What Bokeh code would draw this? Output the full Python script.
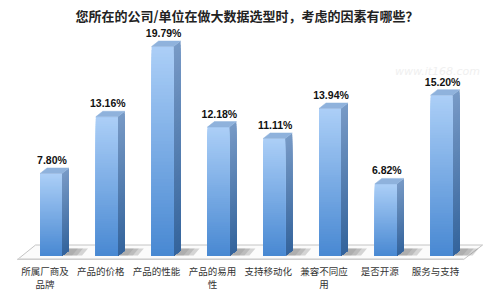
from bokeh.plotting import figure
from bokeh.models import ColumnDataSource, Range1d
from bokeh.core.properties import value
from bokeh.embed import file_html
from bokeh.resources import INLINE

# ---- data ----
categories = ["所属厂商及\n品牌", "产品的价格", "产品的性能", "产品的易用\n性",
              "支持移动化", "兼容不同应\n用", "是否开源", "服务与支持"]
values = [7.80, 13.16, 19.79, 12.18, 11.11, 13.94, 6.82, 15.20]
labels = ["7.80%", "13.16%", "19.79%", "12.18%", "11.11%", "13.94%", "6.82%", "15.20%"]
title_text = "您所在的公司/单位在做大数据选型时，考虑的因素有哪些？"

# ---- layout constants (pixel geometry) ----
W, H = 500, 290
X0, STEP = 50.5, 55.8          # px of first bar centre, px per category
Y0, SCALE = 255.6, 10.59       # px (from top) of 0 %, px per %

def dx(px):  # horizontal pixel length -> data units
    return px / STEP

def dy(px):  # vertical pixel length -> % units
    return px / SCALE

xr = Range1d(-X0 / STEP, (W - X0) / STEP)
yr = Range1d(-(H - Y0) / SCALE, Y0 / SCALE)

p = figure(width=W, height=H, x_range=xr, y_range=yr, output_backend="svg",
           toolbar_location=None, min_border=0, x_axis_location=None,
           y_axis_location=None, background_fill_color="white",
           border_fill_color="white")
p.outline_line_color = None
p.grid.visible = False

n = len(values)
hw = dx(11)      # half width of front face
dep_x = dx(7)    # depth offset x
dep_y = dy(5.5)  # depth offset y

def lerp(c1, c2, t):
    return "#%02x%02x%02x" % tuple(int(round(a + (b - a) * t)) for a, b in zip(c1, c2))

# ---- floor ----
fy_lo, fy_hi = dy(Y0 - 259), dy(Y0 - 244.5)
floor_x = [-0.6, -0.6 + dx(18), (n - 1) + dx(41), (n - 1) + dx(22)]
floor_y = [fy_lo, fy_hi, fy_hi, fy_lo]
p.patch(floor_x, floor_y, fill_color="#fbfbfb", line_color="#c4c4c4", line_width=1)
p.patch([-0.6, (n - 1) + dx(22), (n - 1) + dx(22), -0.6],
        [fy_lo, fy_lo, fy_lo + dy(1.2), fy_lo + dy(1.2)],
        fill_color="#d8d8d8", line_color=None)

# ---- shadows behind bars ----
for i in range(n):
    xs = [i + hw, i + hw + dx(20), i + hw + dx(26), i + hw + dep_x]
    ys = [dy(Y0 - 255), dy(Y0 - 255), dy(Y0 - 248), dy(Y0 - 248)]
    for k, a in enumerate([0.25, 0.2, 0.15]):
        shrink = dx(5 * k)
        p.patch([xs[0], xs[1] - shrink, xs[2] - shrink, xs[3]], ys,
                fill_color="#606060", fill_alpha=a, line_color=None)

# ---- bars (gradient by nested strips, tallest first) ----
N = 60
front_top = (0xac, 0xcf, 0xf7)
front_bot = (0x48, 0x88, 0xd2)
side_top = (0x78, 0x9a, 0xc6)
side_bot = (0x34, 0x64, 0x9c)

fl, fr, fb, ft, fc = [], [], [], [], []
sx, sy, sc = [], [], []
for k in reversed(range(N)):
    for i, v in enumerate(values):
        t = v * (k + 1) / N
        frac = 1 - (k + 0.5) / N   # 0 at top, 1 at bottom
        fl.append(i - hw); fr.append(i + hw); fb.append(0); ft.append(t)
        fc.append(lerp(front_top, front_bot, frac))
        sx.append([i + hw - dx(0.3), i + hw + dep_x, i + hw + dep_x, i + hw - dx(0.3)])
        sy.append([0, dep_y, t + dep_y, t])
        sc.append(lerp(side_top, side_bot, frac))

p.patches(xs=sx, ys=sy, fill_color=sc, line_color=None)
p.quad(left=fl, right=fr, bottom=fb, top=ft, fill_color=fc, line_color=None)

# top faces
tx, ty = [], []
for i, v in enumerate(values):
    tx.append([i - hw, i + hw, i + hw + dep_x, i - hw + dep_x])
    ty.append([v, v, v + dep_y, v + dep_y])
p.patches(xs=tx, ys=ty, fill_color="#8fb2dc", line_color="#8fb2dc", line_width=0.5)

# ---- value labels ----
src = ColumnDataSource(dict(x=[i + dx(1) for i in range(n)],
                            y=[v + dep_y + dy(2) for v in values],
                            t=labels))
p.text(x="x", y="y", text="t", source=src, text_align="center",
       text_baseline="bottom", text_font=value("Liberation Sans"),
       text_font_style="bold", text_font_size="10.5px", text_color="#111111")

# ---- category labels ----
csrc = ColumnDataSource(dict(x=[i - dx(6) for i in range(n)],
                             y=[dy(Y0 - 263)] * n, t=categories))
p.text(x="x", y="y", text="t", source=csrc, text_align="center",
       text_baseline="top", text_font=value("Noto Sans CJK SC"),
       text_font_size="9.5px", text_color="#333333", text_line_height=0.95)

# ---- title ----
p.text(x=[dx(246.5 - X0)], y=[dy(Y0 - 15)], text=[title_text], text_align="center",
       text_baseline="middle", text_font=value("Noto Sans CJK SC"),
       text_font_style="bold", text_font_size="13px", text_color="#222222")

# ---- faint watermark ----
p.text(x=[dx(437 - X0)], y=[dy(Y0 - 71)], text=["www.it168.com"], text_align="center",
       text_baseline="middle", text_font=value("DejaVu Sans"),
       text_font_style="italic", text_font_size="11px", text_color="#f0f0f0")

open("out.html", "w").write(file_html(p, INLINE))
